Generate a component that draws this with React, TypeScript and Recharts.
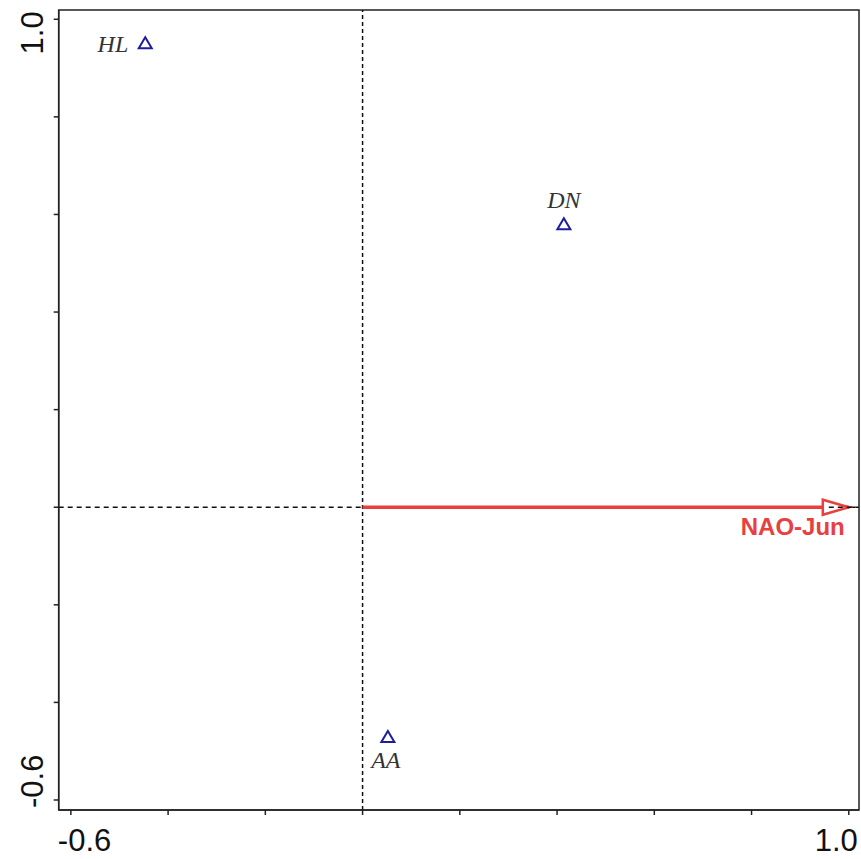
import React from 'react';
import {
  ScatterChart,
  Scatter,
  XAxis,
  YAxis,
  ReferenceLine,
  ReferenceArea
} from 'recharts';

// species scores (first two ordination axes)
const speciesNames = ['HL', 'DN', 'AA'];
const speciesX = [-0.447, 0.414, 0.052];
const speciesY = [0.951, 0.58, -0.471];

// environmental variable arrow tips
const envNames = ['NAO-Jun'];
const envX = [1.0];
const envY = [0.0];

const xTicks = [-0.6, -0.4, -0.2, 0, 0.2, 0.4, 0.6, 0.8, 1.0];
const yTicks = [-0.6, -0.4, -0.2, 0, 0.2, 0.4, 0.6, 0.8, 1.0];
const xLabels = ['-0.6', '1.0'];
const yLabels = ['-0.6', '1.0'];

const xDomain: [number, number] = [-0.625, 1.021];
const yDomain: [number, number] = [-0.6205, 1.019];

const speciesData = speciesNames.map((name, i) => ({ name, x: speciesX[i], y: speciesY[i] }));
const envData = envNames.map((name, i) => ({ name, x: envX[i], y: envY[i] }));

const AXIS = '#222';
const BLUE = '#1e1e9c';
const RED = '#e8403f';
const tickFont = '"Liberation Sans", Arial, sans-serif';

const XTick = ({ x, y, payload }: any) => {
  const v = payload.value;
  const first = Math.abs(v - xTicks[0]) < 1e-9;
  const last = Math.abs(v - xTicks[xTicks.length - 1]) < 1e-9;
  if (!first && !last) return null;
  const text = first ? xLabels[0] : xLabels[1];
  return (
    <text
      x={first ? x - 13 : x + 9}
      y={y + 34}
      textAnchor={first ? 'start' : 'end'}
      fontFamily={tickFont}
      fontSize={31}
      fill="#111"
    >
      {text}
    </text>
  );
};

const YTick = ({ x, y, payload }: any) => {
  const v = payload.value;
  const first = Math.abs(v - yTicks[0]) < 1e-9;
  const last = Math.abs(v - yTicks[yTicks.length - 1]) < 1e-9;
  if (!first && !last) return null;
  const text = first ? yLabels[0] : yLabels[1];
  const bx = x - 9;
  const by = first ? y + 8 : y - 8;
  return (
    <text
      x={bx}
      y={by}
      transform={`rotate(-90, ${bx}, ${by})`}
      textAnchor={first ? 'start' : 'end'}
      fontFamily={tickFont}
      fontSize={31}
      fill="#111"
    >
      {text}
    </text>
  );
};

const labelPlacement: Record<string, 'left' | 'above' | 'below'> = {
  HL: 'left',
  DN: 'above',
  AA: 'below'
};

const SpeciesShape = (props: any) => {
  const { cx, cy, payload } = props;
  const place = labelPlacement[payload.name] || 'above';
  let tx = cx;
  let ty = cy - 16;
  let anchor = 'middle';
  if (place === 'left') {
    tx = cx - 17;
    ty = cy + 9;
    anchor = 'end';
  } else if (place === 'below') {
    tx = cx - 2;
    ty = cy + 31;
  }
  const pts = `${cx},${cy - 6} ${cx + 6.5},${cy + 5} ${cx - 6.5},${cy + 5}`;
  return (
    <g>
      <polygon points={pts} fill="none" stroke={BLUE} strokeWidth={2} />
      <text
        x={tx}
        y={ty}
        textAnchor={anchor}
        fontFamily='"Liberation Serif", "Times New Roman", serif'
        fontStyle="italic"
        fontSize={24}
        fill="#333"
      >
        {payload.name}
      </text>
    </g>
  );
};

const ArrowHead = (props: any) => {
  const { cx, cy, payload } = props;
  const pts = `${cx},${cy} ${cx - 26},${cy - 7.5} ${cx - 26},${cy + 7.5}`;
  return (
    <g>
      <polygon points={pts} fill="#fff" stroke={RED} strokeWidth={2.5} />
      <line x1={cx - 20} y1={cy} x2={cx + 10} y2={cy} stroke="#111" strokeWidth={1.5} strokeDasharray="5 4" />
      <text
        x={cx - 4}
        y={cy + 28}
        textAnchor="end"
        fontFamily={tickFont}
        fontWeight="bold"
        fontSize={24}
        fill={RED}
      >
        {payload.name}
      </text>
    </g>
  );
};

export default function App() {
  return (
    <div style={{ position: 'absolute', left: 0, top: 0 }}>
      <ScatterChart width={861} height={859} margin={{ top: 10, right: 2, bottom: 0, left: 0 }}>
        <XAxis
          type="number"
          dataKey="x"
          domain={xDomain}
          ticks={xTicks}
          interval={0}
          allowDataOverflow
          height={49}
          axisLine={{ stroke: AXIS, strokeWidth: 1.5 }}
          tickLine={{ stroke: AXIS, strokeWidth: 1.5 }}
          tickSize={5}
          tick={<XTick />}
        />
        <YAxis
          type="number"
          dataKey="y"
          domain={yDomain}
          ticks={yTicks}
          interval={0}
          allowDataOverflow
          width={58.7}
          axisLine={{ stroke: AXIS, strokeWidth: 1.5 }}
          tickLine={{ stroke: AXIS, strokeWidth: 1.5 }}
          tickSize={5}
          tick={<YTick />}
        />
        <ReferenceArea
          x1={xDomain[0]}
          x2={xDomain[1]}
          y1={yDomain[0]}
          y2={yDomain[1]}
          fill="none"
          fillOpacity={0}
          stroke={AXIS}
          strokeWidth={1.5}
        />
        <ReferenceLine x={0} stroke="#111" strokeWidth={1.5} strokeDasharray="4 3" />
        <ReferenceLine y={0} stroke="#111" strokeWidth={1.5} strokeDasharray="5 4" />
        {envData.map((d) => (
          <ReferenceLine
            key={d.name}
            segment={[{ x: 0, y: 0 }, { x: d.x, y: d.y }]}
            stroke={RED}
            strokeWidth={3.5}
          />
        ))}
        <Scatter data={envData} shape={<ArrowHead />} isAnimationActive={false} />
        <Scatter data={speciesData} shape={<SpeciesShape />} isAnimationActive={false} />
      </ScatterChart>
    </div>
  );
}
